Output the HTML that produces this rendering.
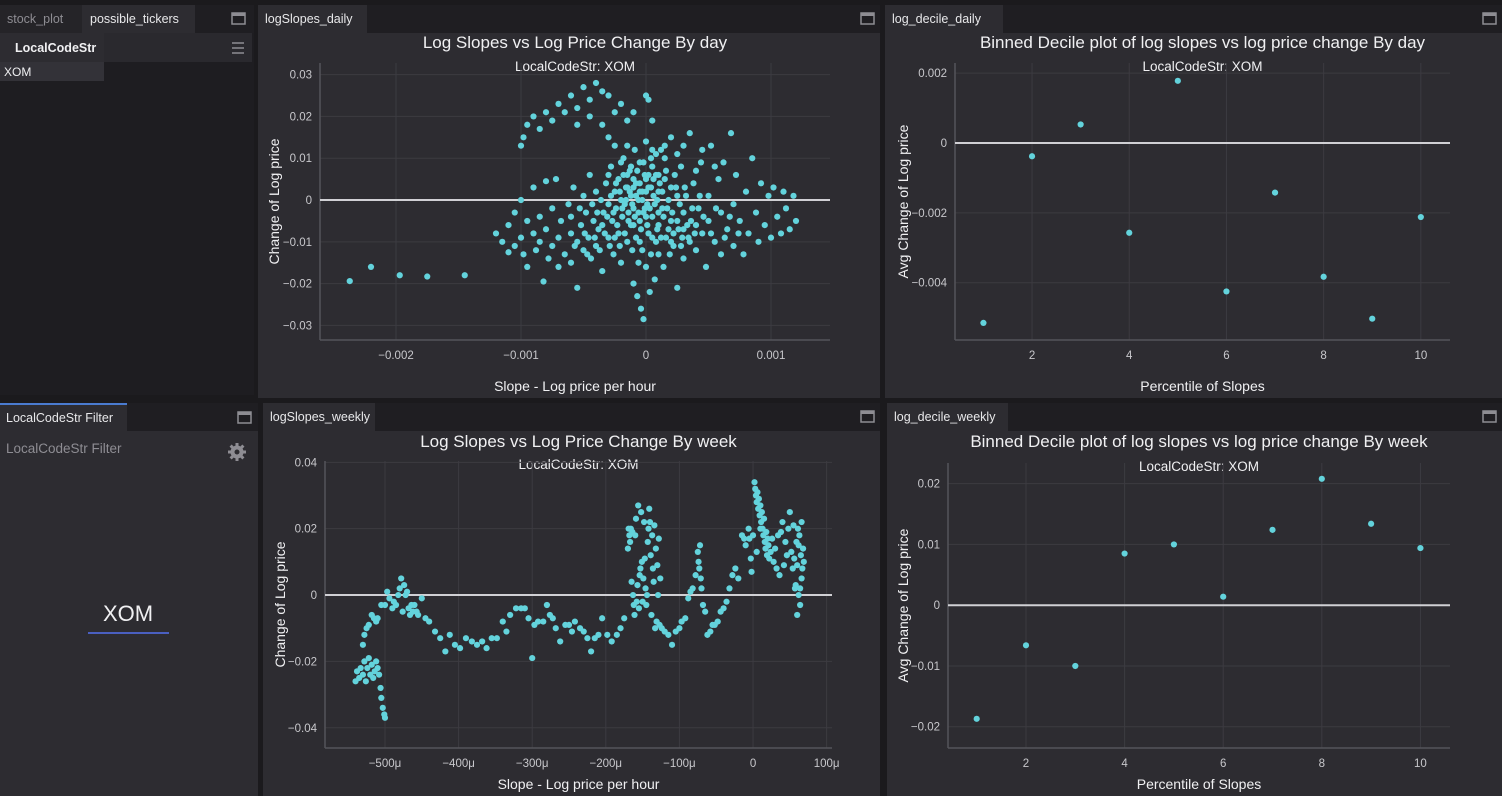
<!DOCTYPE html>
<html><head><meta charset="utf-8">
<style>
html,body{margin:0;padding:0;background:#1b1a1d;width:1502px;height:796px;overflow:hidden;font-family:"Liberation Sans",sans-serif}
svg{position:absolute;left:0;top:0}
</style></head>
<body>
<svg id="root" width="1502" height="796" viewBox="0 0 1502 796" xmlns="http://www.w3.org/2000/svg">
  <rect x="0" y="0" width="1502" height="796" fill="#1b1a1d"/>
  <g>
    <rect x="0" y="5" width="254" height="28" fill="#1f1e22"/>
    <rect x="0" y="5" width="82" height="28" fill="#252428"/>
    <text x="7" y="23" font-size="12.5" fill="#8e8d93">stock_plot</text>
    <rect x="82" y="5" width="113" height="28" fill="#2d2c31"/>
    <text x="90" y="23" font-size="12.5" fill="#e8e8ea">possible_tickers</text>
    <rect x="232" y="13" width="13" height="11" fill="none" stroke="#8e8d93" stroke-width="1.5"/>
    <rect x="232" y="13" width="13" height="3" fill="#8e8d93"/>
    <rect x="0" y="33" width="254" height="362" fill="#1e1d21"/>
    <rect x="0" y="33" width="252" height="29" fill="#2a292e"/>
    <rect x="0" y="33" width="104" height="29" fill="#2d2c31"/>
    <text x="15" y="52" font-size="12.5" font-weight="bold" fill="#f0f0f2">LocalCodeStr</text>
    <g stroke="#8e8d93" stroke-width="1.5"><line x1="232" y1="43" x2="244" y2="43"/><line x1="232" y1="48" x2="244" y2="48"/><line x1="232" y1="53" x2="244" y2="53"/></g>
    <rect x="0" y="62" width="104" height="19" fill="#333238"/>
    <text x="4" y="76" font-size="12" fill="#f0f0f2">XOM</text>
  </g>
  <g>
    <rect x="0" y="403" width="258" height="28" fill="#1f1e22"/>
    <rect x="0" y="403" width="127" height="28" fill="#2d2c31"/>
    <rect x="0" y="403" width="127" height="2" fill="#4a7bd0"/>
    <text x="6" y="422" font-size="12.5" fill="#e8e8ea">LocalCodeStr Filter</text>
    <rect x="238" y="412" width="13" height="11" fill="none" stroke="#8e8d93" stroke-width="1.5"/>
    <rect x="238" y="412" width="13" height="3" fill="#8e8d93"/>
    <rect x="0" y="431" width="258" height="365" fill="#2d2c31"/>
    <text x="6" y="453" font-size="13.5" fill="#8e8d93">LocalCodeStr Filter</text>
    <g>
      <circle cx="237" cy="452" r="6.5" fill="#8e8d93"/>
      <g stroke="#8e8d93" stroke-width="3"><line x1="237" y1="443" x2="237" y2="461"/><line x1="228" y1="452" x2="246" y2="452"/><line x1="230.6" y1="445.6" x2="243.4" y2="458.4"/><line x1="243.4" y1="445.6" x2="230.6" y2="458.4"/></g>
      <circle cx="237" cy="452" r="2.5" fill="#2d2c31"/>
    </g>
    <text x="128" y="621" font-size="22" fill="#f0f0f2" text-anchor="middle">XOM</text>
    <rect x="88" y="632" width="81" height="2" fill="#4a5fc0"/>
  </g>
  <g id="charts"></g>
</svg>
<script>
const dailyTitle = "Log Slopes vs Log Price Change By day";
const dailyPoints = [[-2.37,-1.94],[-2.2,-1.6],[-1.97,-1.8],[-1.75,-1.83],[-1.45,-1.8],
[-1.2,-0.8],[-1.15,-1.0],[-1.1,-0.6],[-1.1,-1.25],[-1.05,-0.3],[-1.05,-1.1],[-1.0,0.0],[-1.0,-0.9],[-0.98,-1.3],[-0.95,-0.5],[-0.95,-1.6],[-0.9,0.3],[-0.9,-0.8],[-0.88,-1.2],[-0.85,-0.4],[-0.85,-1.0],[-0.82,-1.95],[-0.8,0.45],[-0.8,-0.7],[-0.78,-1.4],[-0.75,-0.2],[-0.75,-1.1],[-0.72,0.5],[-0.7,-0.9],[-0.7,-1.6],[-0.68,-0.5],[-0.65,-1.3],[-0.62,-0.1],[-0.6,-0.8],[-0.6,-1.5],[-0.58,0.3],[-0.55,-1.0],[-0.55,-2.1],[-0.52,-0.6],[-0.5,0.1],[-0.5,-1.2],[-0.48,-0.3],[-0.46,-0.9],[-0.45,0.6],[-0.44,-1.4],[-0.42,-0.5],[-0.4,0.2],[-0.4,-1.1],[-0.38,-0.7],[-0.36,0.0],[-0.35,-1.7],[-0.34,-0.3],[-0.32,0.4],[-0.3,-0.9],[-0.3,-0.1],[-0.28,0.8],[-0.27,-0.5],[-0.26,-1.3],[-0.25,0.2],[-0.24,-0.2],[-0.22,-0.8],[-0.22,0.5],[-0.2,0.0],[-0.2,-1.5],[-0.19,-0.4],[-0.18,1.0],[-0.17,-0.1],[-0.16,0.3],[-0.15,-1.0],[-0.14,-0.3],[-0.13,0.7],[-0.12,0.1],[-0.12,-0.6],[-0.1,-2.0],[-0.1,-0.2],[-0.09,1.2],[-0.08,0.4],[-0.08,-0.9],[-0.07,-2.3],[-0.06,0.0],[-0.05,-0.5],[-0.05,0.9],[-0.04,-2.6],[-0.03,0.2],[-0.03,-1.2],[-0.02,-2.85],[-0.02,-0.3],[-0.01,0.6],[0.0,-1.6],[0.0,1.4],[0.01,-0.1],[0.02,0.3],[0.02,-0.8],[0.03,-2.2],[0.04,1.0],[0.05,-0.4],[0.06,0.1],[0.07,-1.9],[0.08,0.6],[0.09,-0.7],[0.1,-1.3],[0.1,0.2],[0.12,1.2],[0.13,-0.2],[0.14,-1.6],[0.15,0.5],[0.16,-0.9],[0.18,0.0],[0.2,-0.5],[0.2,1.5],[0.22,-1.1],[0.24,0.3],[0.25,-2.1],[0.26,-0.7],[0.28,0.8],[0.3,-0.3],[0.3,-1.4],[0.32,0.1],[0.34,-0.9],[0.35,1.6],[0.36,-0.5],[0.38,0.4],[0.4,-1.2],[0.42,-0.2],[0.44,0.9],[0.45,-0.8],[0.48,-1.6],[0.5,0.1],[0.5,-0.5],[0.52,1.3],[0.55,-1.0],[0.58,0.5],[0.6,-0.3],[0.6,-1.3],[0.62,0.9],[0.65,-0.7],[0.68,1.6],[0.7,-0.1],[0.7,-1.1],[0.72,0.6],[0.75,-0.5],[0.78,-1.3],[0.8,0.2],[0.82,-0.8],[0.85,1.0],[0.88,-0.3],[0.9,-1.0],[0.92,0.4],[0.95,-0.6],[0.98,0.1],[1.0,-0.9],[1.02,0.3],[1.05,-0.4],[1.08,-0.8],[1.1,0.2],[1.12,-0.2],[1.15,-0.7],[1.18,0.1],[1.2,-0.5],
[-1.0,1.3],[-0.98,1.5],[-0.95,1.8],[-0.9,2.0],[-0.85,1.7],[-0.8,2.1],[-0.75,1.9],[-0.7,2.3],[-0.65,2.1],[-0.6,2.5],[-0.55,2.2],[-0.5,2.7],[-0.45,2.4],[-0.4,2.8],[-0.35,2.6],[-0.3,2.5],[-0.25,2.1],[-0.2,2.3],[-0.15,1.9],[-0.1,2.1],[0.0,2.5],[0.02,2.4],[-0.3,1.5],[-0.35,1.8],[-0.25,1.3],[0.05,1.9],[-0.45,2.0],[-0.55,1.8],
[-0.1,0.3],[-0.15,0.6],[0.0,0.5],[-0.05,0.2],[0.05,0.8],[0.1,0.6],[-0.2,0.9],[0.15,1.0],[-0.3,0.6],[0.0,-0.4],[-0.1,-0.6],[0.1,-0.3],[-0.05,-1.0],[0.2,-1.0],[-0.25,-0.9],[0.3,-0.7],[0.25,0.1],[-0.35,-0.6],[0.4,-0.6],[0.35,-1.0],
[-0.28,0.1],[-0.26,-0.3],[-0.24,0.4],[-0.23,-0.6],[-0.21,0.2],[-0.19,-0.2],[-0.18,0.6],[-0.17,-0.8],[-0.16,0.0],[-0.15,0.3],[-0.14,-0.5],[-0.13,0.2],[-0.12,0.8],[-0.11,-0.1],[-0.1,0.5],[-0.09,-0.4],[-0.08,0.1],[-0.07,0.7],[-0.06,-0.3],[-0.05,0.4],[-0.04,-0.7],[-0.03,0.0],[-0.02,0.9],[-0.01,-0.2],[0.0,0.2],[0.01,-0.6],[0.02,0.6],[0.03,-0.2],[0.04,0.3],[0.05,-0.9],[0.06,0.5],[0.07,-0.1],[0.08,1.1],[0.09,0.0],[0.1,-0.6],[0.11,0.4],[0.12,-0.9],[0.13,0.2],[0.14,-0.4],[0.16,0.7],[0.17,-0.2],[0.18,-0.7],[0.2,0.3],[0.21,-0.3],[0.22,-0.8],[0.23,0.6],[0.25,-0.5],[0.27,-0.1],[0.29,-0.9],[0.31,0.3],[0.33,-0.6],[0.37,-0.2],[0.39,-0.8],[0.43,0.1],[0.46,-0.4],[0.52,-0.8],[0.56,-0.2],[0.63,-0.9],[0.67,-0.4],[0.74,-0.8],
[-0.6,-0.4],[-0.57,-1.1],[-0.53,-0.2],[-0.49,-0.8],[-0.47,-1.3],[-0.43,-0.1],[-0.41,-0.9],[-0.39,-0.3],[-0.37,-1.2],[-0.33,-0.8],[-0.31,-0.4],[-0.29,-1.1],[-0.21,-1.1],[-0.11,-1.2],[-0.06,-1.5],[0.04,-1.3],[0.08,-1.0],[0.19,-1.3],[0.28,-1.1],[0.15,1.3],[0.25,1.1],[0.45,1.2],[0.55,0.8],[0.05,1.2],[-0.15,1.3],[0.3,1.3],[0.4,0.7]];
const dailyXTicks = [-2,-1,0,1];
const dailyXLabels = ["−0.002","−0.001","0","0.001"];
const dailyYTicks = [3,2,1,0,-1,-2,-3];
const dailyYLabels = ["0.03","0.02","0.01","0","−0.01","−0.02","−0.03"];

const weeklyPoints = [[-540,-2.6],[-538,-2.3],[-535,-2.5],[-533,-2.2],[-530,-2.4],[-528,-2.0],[-526,-2.6],[-524,-2.2],[-522,-1.9],[-520,-2.4],[-518,-2.1],[-516,-2.5],[-514,-2.3],[-512,-2.0],[-510,-2.2],[-508,-2.4],[-506,-2.8],[-505,-3.1],[-503,-3.4],[-501,-3.6],[-500,-3.7],[-530,-1.5],[-528,-1.2],[-525,-1.0],[-522,-0.9],[-518,-0.6],[-515,-0.7],[-512,-0.8],[-510,-0.7],[-505,-0.3],[-500,-0.3],[-497,0.1],[-494,-0.1],[-490,-0.4],[-488,-0.2],[-485,-0.3],[-482,0.0],[-480,0.2],[-478,0.5],[-476,-0.5],[-474,0.3],[-472,0.0],[-470,0.1],[-468,-0.4],[-466,-0.6],[-464,-0.3],[-462,-0.5],[-460,-0.3],[-457,-0.5],[-455,-0.6],[-450,-0.1],[-445,-0.7],[-440,-0.8],[-432,-1.1],[-425,-1.3],[-418,-1.7],[-412,-1.2],[-405,-1.5],[-398,-1.6],[-390,-1.3],[-382,-1.4],[-375,-1.5],[-368,-1.4],[-362,-1.6],[-355,-1.3],[-348,-1.3],[-340,-0.8],[-335,-1.1],[-330,-0.6],[-322,-0.4],[-315,-0.4],[-310,-0.4],[-305,-0.7],[-300,-1.9],[-297,-0.9],[-292,-0.8],[-285,-0.8],[-280,-0.3],[-276,-0.6],[-272,-0.7],[-268,-1.0],[-262,-1.4],[-255,-0.9],[-250,-0.9],[-246,-1.1],[-242,-0.8],[-235,-1.0],[-230,-1.1],[-225,-1.3],[-220,-1.7],[-215,-1.3],[-210,-1.2],[-205,-0.7],[-198,-1.2],[-192,-1.4],[-185,-1.2],[-180,-1.0],[-175,-0.7],
[-170,1.4],[-169,2.0],[-168,1.8],[-167,1.6],[-166,2.0],[-165,0.4],[-164,1.9],[-163,0.0],[-162,-0.3],[-161,-0.6],[-160,1.8],[-159,2.3],[-158,-0.2],[-157,0.3],[-156,2.7],[-155,-0.4],[-154,0.6],[-153,0.8],[-152,2.5],[-151,1.0],[-150,-0.2],[-149,0.5],[-148,2.2],[-147,1.1],[-146,0.2],[-145,-0.3],[-144,0.0],[-143,1.6],[-142,2.0],[-141,2.6],[-140,2.2],[-139,1.2],[-138,-0.6],[-137,1.8],[-136,0.8],[-135,0.4],[-134,2.1],[-133,-1.0],[-132,1.4],[-131,-0.8],[-130,0.9],[-129,0.0],[-128,1.7],[-127,-0.9],[-126,0.5],[-124,-1.0],[-120,-1.1],[-115,-1.2],[-110,-1.5],[-105,-1.1],[-100,-1.0],[-97,-0.8],[-92,-0.7],[-88,-0.1],[-85,0.1],[-82,0.2],[-78,0.6],[-75,1.3],[-74,1.0],[-73,0.8],[-72,1.5],[-71,0.5],[-70,0.2],[-68,-0.3],[-65,-0.5],[-62,-1.2],[-58,-1.1],[-55,-0.9],[-52,-0.9],[-48,-0.8],[-44,-0.5],[-40,-0.4],[-36,-0.2],[-32,0.2],[-28,0.6],[-24,0.8],[-20,0.5],[-15,1.8],[-12,1.7],[-10,1.5],[-6,2.0],[-3,1.1],[-2,0.7],
[2,3.4],[3,3.2],[4,3.0],[5,2.8],[6,3.1],[7,2.6],[8,2.9],[9,2.4],[10,2.7],[11,2.2],[12,2.5],[13,2.0],[14,1.8],[15,2.3],[16,1.6],[17,1.4],[18,1.9],[19,1.2],[20,1.7],[21,1.5],[22,1.1],[24,1.3],[26,1.7],[28,1.0],[30,1.4],[32,0.8],[34,1.8],[36,0.6],[38,1.9],[40,2.2],[42,0.9],[44,1.6],[46,1.2],[48,2.0],[50,2.5],[52,1.3],[54,0.8],[56,1.1],[58,0.3],[59,1.6],[60,-0.6],[61,2.0],[62,0.0],[63,1.8],[64,-0.3],[65,1.2],[66,2.2],[67,0.8],[68,1.4],[69,1.0],[-5,1.7],[0,1.8],[5,1.3],[10,2.0],[55,2.1],[62,1.5],[66,0.5],[64,0.2],[60,0.9],[57,0.2]];
const weeklyXTicks = [-500,-400,-300,-200,-100,0,100];
const weeklyXLabels = ["−500μ","−400μ","−300μ","−200μ","−100μ","0","100μ"];
const weeklyYTicks = [4,2,0,-2,-4];
const weeklyYLabels = ["0.04","0.02","0","−0.02","−0.04"];

const decileCats = [1,2,3,4,5,6,7,8,9,10];
const decileDailyVals = [-5.15,-0.38,0.53,-2.57,1.78,-4.25,-1.42,-3.83,-5.03,-2.12];
const decileDailyYTicks = [2,0,-2,-4];
const decileDailyYLabels = ["0.002","0","−0.002","−0.004"];
const decileWeeklyVals = [-1.87,-0.66,-1.00,0.85,1.00,0.14,1.24,2.08,1.34,0.94];
const decileWeeklyYTicks = [2,1,0,-1,-2];
const decileWeeklyYLabels = ["0.02","0.01","0","−0.01","−0.02"];
const decileXTicks = [2,4,6,8,10];
const decileXLabels = ["2","4","6","8","10"];

const NS = "http://www.w3.org/2000/svg";
const root = document.getElementById("charts");
function mk(tag, attrs, parent, txt){
  const e = document.createElementNS(NS, tag);
  for (const k in attrs) e.setAttribute(k, attrs[k]);
  if (txt !== undefined) e.textContent = txt;
  (parent || root).appendChild(e);
  return e;
}
function lin(d0,d1,r0,r1){ return v => r0 + (v-d0)/(d1-d0)*(r1-r0); }

function panel(p){
  const g = mk("g", {});
  
  
  mk("rect",{x:p.x,y:p.y,width:p.w,height:28,fill:"#1f1e22"},g);
  const tab = mk("rect",{x:p.x,y:p.y,width:p.tabW,height:28,fill:"#2d2c31"},g);
  
  
  mk("text",{x:p.x+7,y:p.y+18,"font-size":12.5,fill:"#e8e8ea"},g,p.tab);
  const mx = mk("rect",{x:p.x+p.w-19,y:p.y+8,width:13,height:11,fill:"none",stroke:"#8e8d93","stroke-width":1.5},g);
  
  
  mk("rect",{x:p.x+p.w-19,y:p.y+8,width:13,height:3,fill:"#8e8d93"},g);
  mk("rect",{x:p.x,y:p.y+28,width:p.w,height:p.h-28,fill:"#2d2c31"},g);
  return g;
}

function chart(c){
  const g = panel(c.panel);
  const sx = lin(c.xd[0],c.xd[1],c.px[0],c.px[1]);
  const sy = lin(c.yd[0],c.yd[1],c.py[0],c.py[1]);
  const cx = (c.px[0]+c.px[1])/2;
  const t = mk("text",{x:cx,y:c.titleY,"font-size":17,fill:"#f0f0f2","text-anchor":"middle"},g,c.title);
  
  
  const st = mk("text",{x:cx,y:c.py[1]+8,"font-size":13.5,fill:"#f0f0f2","text-anchor":"middle"},g,"LocalCodeStr: XOM");
  
  
  c.xt.forEach((v,i)=>{
    const x = sx(v);
    const gl = mk("line",{x1:x,x2:x,y1:c.py[1],y2:c.py[0],stroke:"#3c3b41","stroke-width":1},g);
    
    
    const tl = mk("text",{x:x,y:c.py[0]+19,"font-size":11.5,fill:"#c8c8cc","text-anchor":"middle"},g,c.xl[i]);
    
    
  });
  c.yt.forEach((v,i)=>{
    const y = sy(v);
    const gl = mk("line",{x1:c.px[0],x2:c.px[1],y1:y,y2:y,stroke:"#3c3b41","stroke-width":1},g);
    
    
    const tl = mk("text",{x:c.px[0]-8,y:y+4,"font-size":11.5,fill:"#c8c8cc","text-anchor":"end"},g,c.yl[i]);
    
    
  });
  mk("line",{x1:c.px[0],x2:c.px[0],y1:c.py[1],y2:c.py[0],stroke:"#55545a","stroke-width":1.5},g);
  mk("line",{x1:c.px[0],x2:c.px[1],y1:c.py[0],y2:c.py[0],stroke:"#55545a","stroke-width":1.5},g);
  const zl = mk("line",{x1:c.px[0],x2:c.px[1],y1:sy(0),y2:sy(0),stroke:"#d0d0d4","stroke-width":2},g);
  
  
  const xa = mk("text",{x:cx,y:c.xTitleY,"font-size":14,fill:"#f0f0f2","text-anchor":"middle"},g,c.xTitle);
  
  
  const ymid = (c.py[0]+c.py[1])/2;
  const ya = mk("text",{x:c.yTitleX,y:ymid,"font-size":14,fill:"#f0f0f2","text-anchor":"middle",transform:`rotate(-90 ${c.yTitleX} ${ymid})`},g,c.yTitle);
  
  
  const pts = mk("g",{fill:"#63d3dc"},g);
  
  
  c.xs.forEach((xv,i)=>{
    const d = mk("circle",{cx:sx(xv),cy:sy(c.ys[i]),r:3.1},pts);
    
    
  });
}

chart({panel:{name:"log-slopes-daily",x:258,y:5,w:622,h:393,tab:"logSlopes_daily",tabW:109},
  px:[320,830],py:[340,63],xd:[-2.608,1.472],yd:[-3.349,3.278],
  xs:dailyPoints.map(p=>p[0]), ys:dailyPoints.map(p=>p[1]),
  xt:dailyXTicks,xl:dailyXLabels,yt:dailyYTicks,yl:dailyYLabels,
  title:dailyTitle,titleY:48,xTitle:"Slope - Log price per hour",xTitleY:391,yTitle:"Change of Log price",yTitleX:279});

chart({panel:{name:"log-decile-daily",x:885,y:5,w:617,h:393,tab:"log_decile_daily",tabW:118},
  px:[955,1450],py:[340,63],xd:[0.415,10.6],yd:[-5.64,2.29],
  xs:decileCats, ys:decileDailyVals,
  xt:decileXTicks,xl:decileXLabels,yt:decileDailyYTicks,yl:decileDailyYLabels,
  title:"Binned Decile plot of log slopes vs log price change By day",titleY:48,xTitle:"Percentile of Slopes",xTitleY:391,yTitle:"Avg Change of Log price",yTitleX:908});

chart({panel:{name:"log-slopes-weekly",x:263,y:403,w:617,h:393,tab:"logSlopes_weekly",tabW:112},
  px:[325,832],py:[748,461],xd:[-581.5,107.3],yd:[-4.61,4.04],
  xs:weeklyPoints.map(p=>p[0]), ys:weeklyPoints.map(p=>p[1]),
  xt:weeklyXTicks,xl:weeklyXLabels,yt:weeklyYTicks,yl:weeklyYLabels,
  title:"Log Slopes vs Log Price Change By week",titleY:447,xTitle:"Slope - Log price per hour",xTitleY:789,yTitle:"Change of Log price",yTitleX:285});

chart({panel:{name:"log-decile-weekly",x:887,y:403,w:615,h:393,tab:"log_decile_weekly",tabW:121},
  px:[948,1450],py:[748,463],xd:[0.418,10.6],yd:[-2.35,2.34],
  xs:decileCats, ys:decileWeeklyVals,
  xt:decileXTicks,xl:decileXLabels,yt:decileWeeklyYTicks,yl:decileWeeklyYLabels,
  title:"Binned Decile plot of log slopes vs log price change By week",titleY:447,xTitle:"Percentile of Slopes",xTitleY:789,yTitle:"Avg Change of Log price",yTitleX:908});
</script>
</body></html>
